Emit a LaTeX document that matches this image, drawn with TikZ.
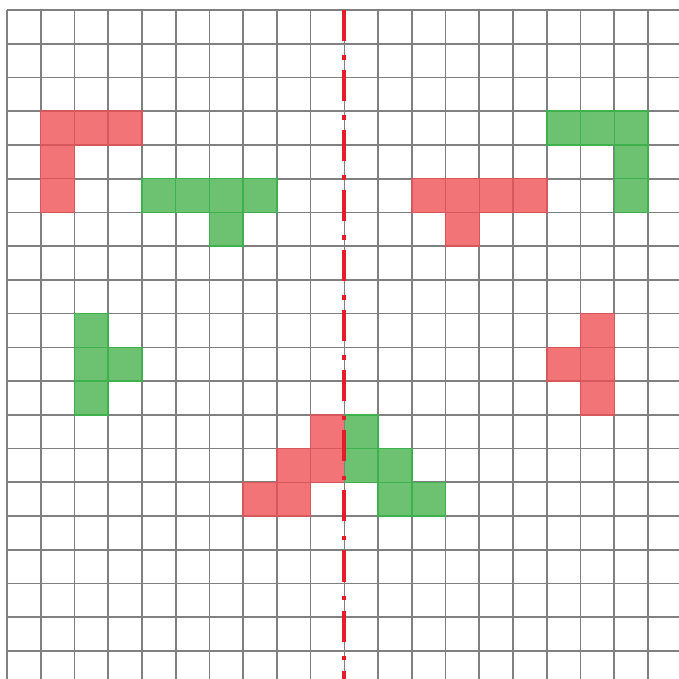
\documentclass[tikz,border=0pt]{standalone}
\begin{document}
\begin{tikzpicture}[x=1cm,y=1cm,
  gridline/.style={draw={rgb,255:red,128;green,128;blue,128}, line width=1.4pt},
  redcell/.style={fill={rgb,255:red,242;green,116;blue,118}, draw={rgb,255:red,214;green,88;blue,92}, line width=1.2pt},
  greencell/.style={fill={rgb,255:red,108;green,194;blue,112}, draw={rgb,255:red,62;green,176;blue,78}, line width=1.2pt},
  axisline/.style={draw={rgb,255:red,228;green,30;blue,40}, line width=3.4pt,
    dash pattern=on 0.92cm off 0.42cm on 0.13cm off 0.31cm}]
\useasboundingbox (-0.207,0.296) rectangle (19.917,-19.83);
\fill[white] (-0.207,0.296) rectangle (19.917,-19.83);
% grid
\draw[gridline] (0,-19.83) grid (19.917,0);
% red shapes
\foreach \c/\r in {1/3,2/3,3/3,1/4,1/5,
                   12/5,13/5,14/5,15/5,13/6,
                   17/9,16/10,17/10,17/11,
                   9/12,8/13,9/13,7/14,8/14}
  \path[redcell] (\c,-\r) rectangle ++(1,-1);
% green shapes
\foreach \c/\r in {16/3,17/3,18/3,18/4,18/5,
                   4/5,5/5,6/5,7/5,6/6,
                   2/9,2/10,3/10,2/11,
                   10/12,10/13,11/13,11/14,12/14}
  \path[greencell] (\c,-\r) rectangle ++(1,-1);
% symmetry axis
\coordinate (axtop) at (10,0);
\coordinate (axbot) at (10,-19.83);
\draw[gridline] (axtop) -- (axbot);
\draw[axisline] (axtop) -- (axbot);
\end{tikzpicture}
\end{document}
